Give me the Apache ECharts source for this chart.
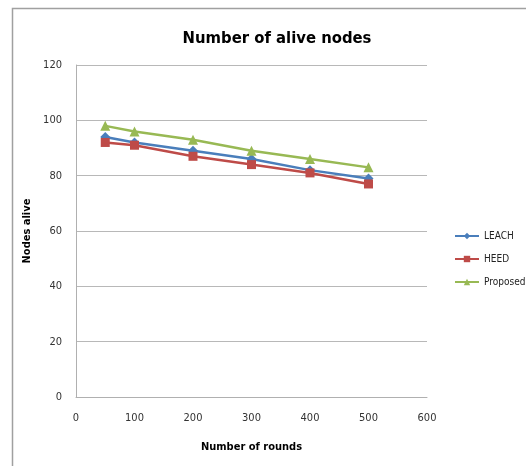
<!DOCTYPE html>
<html><head><meta charset="utf-8">
<script src="https://cdn.jsdelivr.net/npm/echarts@6/dist/echarts.min.js"></script>
<style>html,body{margin:0;padding:0;background:#fff}#c{width:526px;height:466px}</style>
</head><body><div id="c"></div>
<script>
const rounds = [50, 100, 200, 300, 400, 500];
const leach = [94, 92, 89, 86, 82, 79];
const heed = [92, 91, 87, 84, 81, 77];
const proposed = [98, 96, 93, 89, 86, 83];
const FONT = '"DejaVu Sans Condensed", "Liberation Sans", sans-serif';
const chart = echarts.init(document.getElementById('c'));
function ser(name, data, color, symbol, size) {
  return {
    name, type: 'line', data: rounds.map((r, i) => [r, data[i]]),
    symbol, symbolSize: size, showSymbol: true,
    lineStyle: { color, width: 2.5 }, itemStyle: { color },
    animation: false
  };
}
chart.setOption({
  animation: false,
  textStyle: { fontFamily: FONT },
  graphic: [{ type: 'rect', shape: { x: 12.5, y: 8.5, width: 530, height: 470 },
    style: { fill: 'none', stroke: '#a0a0a0', lineWidth: 1.5 }, silent: true }],
  title: { text: 'Number of alive nodes', left: 272, top: 25, textAlign: 'center',
    textStyle: { fontFamily: FONT, fontSize: 16.5, fontWeight: 'bold', color: '#000' } },
  grid: { left: 76, right: 99, top: 65, bottom: 69 },
  legend: {
    orient: 'vertical', left: 449, top: 226, itemGap: 13, itemWidth: 24, itemHeight: 8,
    textStyle: { fontFamily: FONT, fontSize: 10, color: '#222' },
    data: ['LEACH', 'HEED', 'Proposed']
  },
  xAxis: {
    type: 'value', min: 0, max: 600, interval: 100,
    name: 'Number of rounds', nameLocation: 'middle', nameGap: 45,
    nameTextStyle: { fontFamily: FONT, fontSize: 11, fontWeight: 'bold', color: '#000' },
    axisLine: { show: true, lineStyle: { color: '#b0b0b0' } },
    axisTick: { show: false },
    axisLabel: { fontFamily: FONT, fontSize: 11, color: '#333', margin: 16 },
    splitLine: { show: false }
  },
  yAxis: {
    type: 'value', min: 0, max: 120, interval: 20,
    name: 'Nodes alive', nameLocation: 'middle', nameGap: 37, nameRotate: 90,
    nameTextStyle: { fontFamily: FONT, fontSize: 11, fontWeight: 'bold', color: '#000' },
    axisLine: { show: true, lineStyle: { color: '#b0b0b0' } },
    axisTick: { show: false },
    axisLabel: { fontFamily: FONT, fontSize: 11, color: '#333', margin: 14 },
    splitLine: { show: true, lineStyle: { color: '#b8b8b8' } }
  },
  series: [
    ser('LEACH', leach, '#4a7ebb', 'diamond', 10),
    ser('HEED', heed, '#be4b48', 'rect', 9),
    ser('Proposed', proposed, '#98b954', 'triangle', 10)
  ]
});
</script></body></html>
